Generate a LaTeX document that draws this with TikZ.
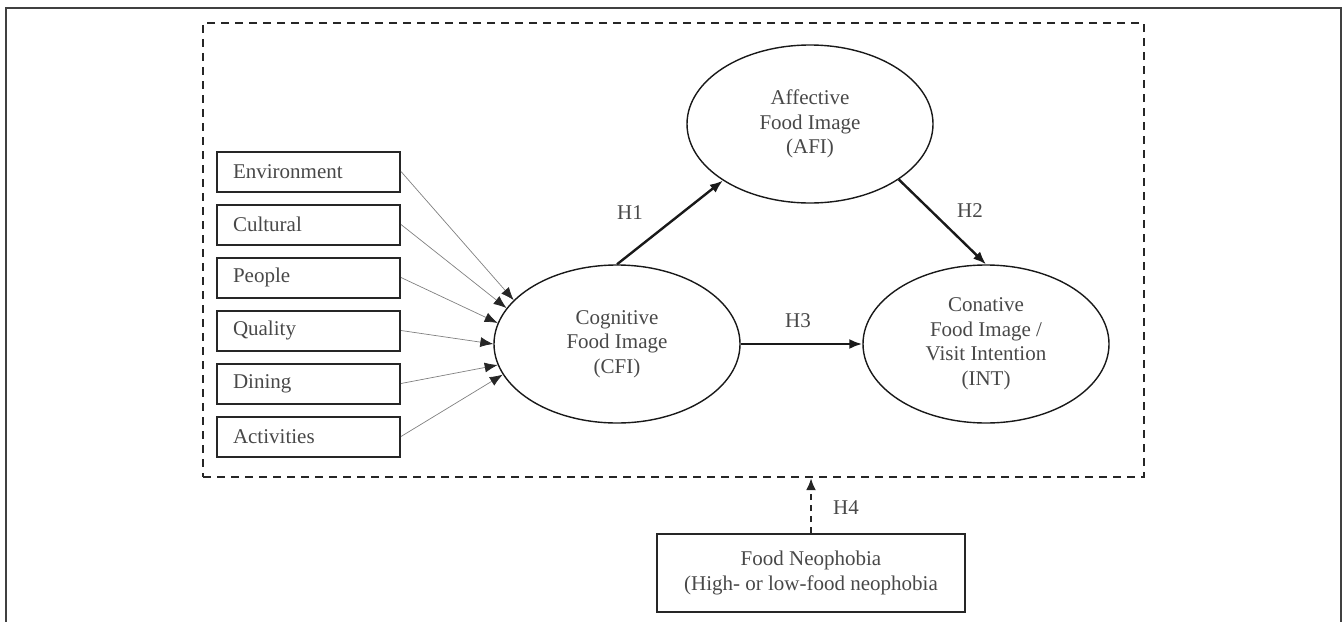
\documentclass[tikz,border=0pt]{standalone}
\usepackage{fontspec}
\setmainfont{Liberation Serif}
\usetikzlibrary{shapes.geometric, arrows.meta, positioning, calc}
\definecolor{txtgray}{HTML}{484848}
\tikzstyle{factor} = [rectangle, draw=black!85, line width=2pt, minimum height=40pt, text width=151pt, inner xsep=16pt, align=left, text=txtgray]
\tikzstyle{construct} = [ellipse, draw=black!90, line width=1.4pt, minimum width=246pt, minimum height=158pt, inner sep=0pt, align=center, text=txtgray]
\tikzstyle{thinarrow} = [line width=0.7pt, draw=black!50, ->, >={Latex[length=13pt,width=10pt,color=black!85]}]
\tikzstyle{hyparrow} = [line width=2.4pt, draw=black!90, ->, >={Latex[length=13pt,width=10pt]}]
\tikzstyle{dasharrow} = [line width=2.2pt, draw=black!85, dash pattern=on 6pt off 5pt, ->, >={Latex[length=12pt,width=10pt]}]

\begin{document}
\begin{tikzpicture}[x=1pt, y=-1pt, node distance=11pt, every node/.style={font=\fontsize{21}{24.5}\selectfont, text=txtgray}]
    \useasboundingbox (0,0) rectangle (1343,621);
    \draw [line width=1.3pt, black!75] (6,8) rectangle (1341,650);
    % Marco del modelo
    \node (model) [draw=black!85, line width=2.2pt, dash pattern=on 8pt off 6pt, minimum width=941pt, minimum height=454pt] at (673.5,250) {};
    % Atributos de la imagen cognitiva
    \node (env) [factor] at (308.5,171.5) {Environment};
    \node (cult) [factor, below=of env] {Cultural};
    \node (people) [factor, below=of cult] {People};
    \node (quality) [factor, below=of people] {Quality};
    \node (dining) [factor, below=of quality] {Dining};
    \node (activ) [factor, below=of dining] {Activities};
    % Constructos
    \node (cfi) [construct] at (617,344) {Cognitive\\Food Image\\(CFI)};
    \node (afi) [construct] at (810,124) {Affective\\Food Image\\(AFI)};
    \node (int) [construct] at (986,344) {Conative\\Food Image /\\Visit Intention\\(INT)};
    \node (neo) [rectangle, draw=black!85, line width=2pt, minimum width=308pt, minimum height=78pt, align=center] at (811,573) {Food Neophobia\\(High- or low-food neophobia};

    \draw [thinarrow] (env.east) -- (cfi.157);
    \draw [thinarrow] (cult.east) -- (cfi.162);
    \draw [thinarrow] (people.east) -- (cfi.170);
    \draw [thinarrow] (quality.east) -- (cfi.180);
    \draw [thinarrow] (dining.east) -- (cfi.190);
    \draw [thinarrow] (activ.east) -- (cfi.195);

    \draw [hyparrow] (cfi.north) -- (afi.213);
    \draw [hyparrow] (afi.328) -- (int.north);
    \draw [hyparrow] (cfi.east) -- (int.west);
    \draw [dasharrow] (neo.north) -- (neo.north |- model.south);

    \node (h1) at (630,213) {H1};
    \node (h2) at (970,211) {H2};
    \node (h3) at (798,321) {H3};
    \node (h4) at (846,508) {H4};
\end{tikzpicture}
\end{document}
